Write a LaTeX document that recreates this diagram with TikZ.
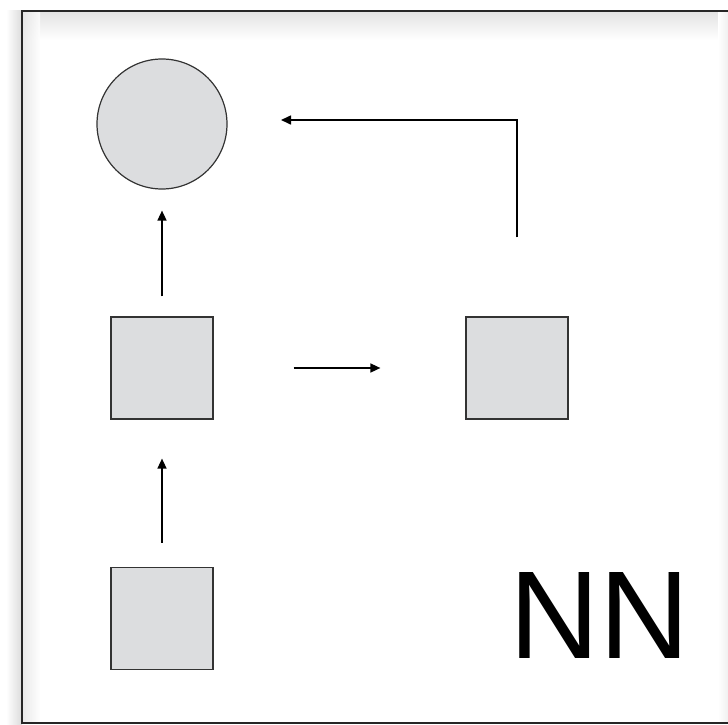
\documentclass[tikz,border=0pt]{standalone}
\usepackage{fontspec}
\setmainfont{Liberation Sans}
\usetikzlibrary{arrows.meta}
\definecolor{shapefill}{HTML}{DCDDDF}
\definecolor{shapeline}{HTML}{333333}
\tikzset{
  x=1pt, y=1pt,
  unit/.style={draw=shapeline, line width=1.2pt, fill=shapefill, minimum size=102pt, inner sep=0pt, rectangle},
  roundunit/.style={draw=shapeline, line width=1.2pt, fill=shapefill, minimum size=130pt, inner sep=0pt, circle},
  flow/.style={line width=1.6pt, -{Triangle[length=10pt,width=9pt]}},
}
\begin{document}
\begin{tikzpicture}
\useasboundingbox (0,0) rectangle (728,-725);
\fill[white] (0,0) rectangle (728,-725);
% soft shadow round the frame
\shade[left color=white, right color=black!14] (6,-11) rectangle (22,-725);
\shade[top color=black!11, bottom color=white] (23,-12) rectangle (728,-40);
\shade[left color=white, right color=black!6] (718,-12) rectangle (728,-722);
\begin{scope}[opacity=0.8]
\shade[left color=black!10, right color=white] (23,-12) rectangle (40,-722);
\end{scope}
% frame
\draw[line width=2pt, black!85] (728,-11) -- (22,-11) -- (22,-723) -- (728,-723);

% nodes
\node[roundunit] (c) at (162,-124) {};
\node[unit] (m) at (162,-368) {};
\node[unit] (r) at (517,-368) {};
\node[unit] (b) at (162,-618.5) {};
\coordinate (t) at (281,-120);

% connectors
\draw[flow, shorten <=20pt, shorten >=21pt] (m.north) -- (c.south);
\draw[flow, shorten <=24pt, shorten >=39pt] (b.north) -- (m.south);
\draw[flow, shorten <=80pt, shorten >=85pt] (m.east) -- (r.west);
\draw[flow, shorten <=79pt] (r.north) |- (t);

% label
\node[anchor=base, font=\fontsize{125}{125}\selectfont, inner sep=0pt] (nn) at (600,-658) {NN};
\end{tikzpicture}
\end{document}
